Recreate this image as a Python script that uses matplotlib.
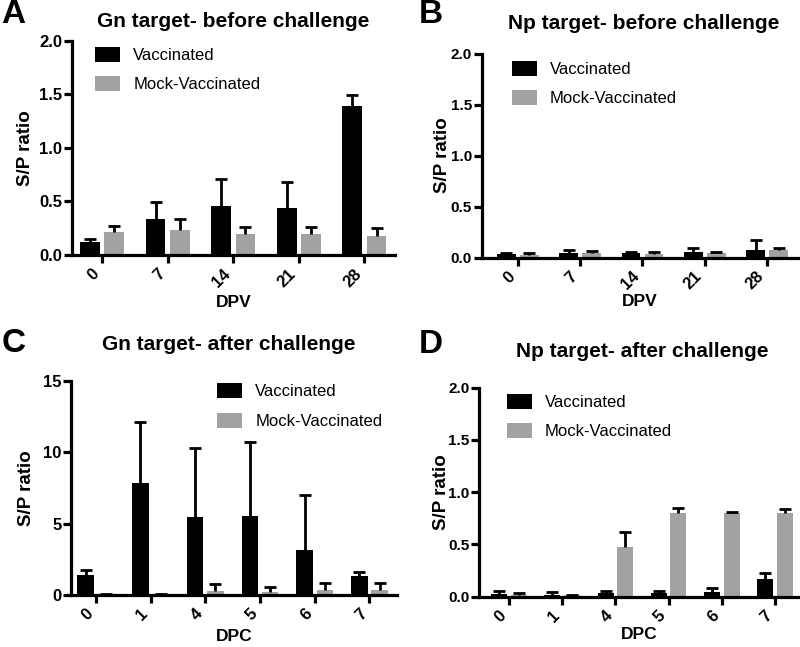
import matplotlib
matplotlib.use("Agg")
import matplotlib.pyplot as plt
import numpy as np

plt.rcParams["font.family"] = ["Liberation Sans", "DejaVu Sans"]

# data
dpv_labels = ["0", "7", "14", "21", "28"]
dpc_labels = ["0", "1", "4", "5", "6", "7"]

gn_before_vacc = [0.12, 0.34, 0.46, 0.44, 1.39]
gn_before_vacc_err = [0.03, 0.15, 0.25, 0.24, 0.10]
gn_before_mock = [0.21, 0.23, 0.20, 0.20, 0.18]
gn_before_mock_err = [0.06, 0.11, 0.06, 0.06, 0.07]

np_before_vacc = [0.033, 0.049, 0.040, 0.055, 0.078]
np_before_vacc_err = [0.013, 0.021, 0.010, 0.035, 0.092]
np_before_mock = [0.023, 0.040, 0.030, 0.040, 0.070]
np_before_mock_err = [0.017, 0.020, 0.020, 0.010, 0.020]

gn_after_vacc = [1.45, 7.84, 5.46, 5.58, 3.20, 1.33]
gn_after_vacc_err = [0.30, 4.31, 4.87, 5.12, 3.80, 0.33]
gn_after_mock = [0.05, 0.05, 0.30, 0.23, 0.35, 0.35]
gn_after_mock_err = [0.03, 0.03, 0.52, 0.33, 0.54, 0.51]

np_after_vacc = [0.026, 0.016, 0.030, 0.030, 0.048, 0.166]
np_after_vacc_err = [0.031, 0.024, 0.020, 0.025, 0.029, 0.057]
np_after_mock = [0.013, 0.010, 0.476, 0.795, 0.795, 0.795]
np_after_mock_err = [0.017, 0.005, 0.144, 0.050, 0.012, 0.045]

BLACK = "#000000"
GRAY = "#a2a2a2"
W, H = 800, 647


def bars_up(ax, x, vals, errs, color, label):
    ax.bar(x, vals, 0.30, color=color, label=label, zorder=2)
    eb = ax.errorbar(x, vals, yerr=[np.zeros(len(vals)), errs], fmt="none",
                     ecolor="black", elinewidth=2.0, capsize=4.2, capthick=2.0, zorder=3)
    # only the upper cap, like the original
    for cl in eb[1]:
        if np.allclose(cl.get_ydata(), vals):
            cl.set_visible(False)


def draw_panel(ax, labels, vacc, vacc_err, mock, mock_err, ymax, yticks, yticklabels,
               xlim, xlabel, title, title_xy, xlab_y, ylab_x, leg_xy, ytick_fs=12):
    x = np.arange(len(labels))
    bars_up(ax, x - 0.185, vacc, vacc_err, BLACK, "Vaccinated")
    bars_up(ax, x + 0.185, mock, mock_err, GRAY, "Mock-Vaccinated")

    ax.set_xlim(*xlim)
    ax.set_ylim(0, ymax)
    ax.set_yticks(yticks)
    ax.set_yticklabels(yticklabels, fontsize=ytick_fs, fontweight="bold")
    ax.set_xticks(x)
    ax.set_xticklabels(labels, rotation=45, ha="right", fontsize=12, fontweight="bold")
    for s in ["top", "right"]:
        ax.spines[s].set_visible(False)
    for s in ["left", "bottom"]:
        ax.spines[s].set_linewidth(2.3)
    ax.tick_params(width=2.3, length=5.5)
    ax.tick_params(axis="y", pad=1.5)
    ax.tick_params(axis="x", pad=2.5)
    ax.set_ylabel("S/P ratio", fontsize=13.5, fontweight="bold")
    ax.yaxis.set_label_coords(ylab_x, 0.5)
    ax.set_xlabel(xlabel, fontsize=12.5, fontweight="bold")
    ax.xaxis.set_label_coords(0.5, xlab_y)
    ax.text(title_xy[0], title_xy[1], title, transform=ax.transAxes, fontsize=15,
            fontweight="bold", ha="center", va="baseline")
    ax.legend(loc="upper left", bbox_to_anchor=leg_xy, frameon=False, fontsize=12,
              handlelength=1.5, handleheight=1.0, labelspacing=0.8, borderpad=0,
              borderaxespad=0, handletextpad=0.8)


fig = plt.figure(figsize=(8, 6.47), dpi=100)
axA = fig.add_axes([0.090, 0.606, 0.404, 0.331])
axB = fig.add_axes([0.602, 0.602, 0.395, 0.315])
axC = fig.add_axes([0.089, 0.080, 0.407, 0.331])
axD = fig.add_axes([0.599, 0.078, 0.401, 0.323])

yt2 = [0, 0.5, 1.0, 1.5, 2.0]
yl2 = ["0.0", "0.5", "1.0", "1.5", "2.0"]

draw_panel(axA, dpv_labels, gn_before_vacc, gn_before_vacc_err, gn_before_mock,
           gn_before_mock_err, 2.0, yt2, yl2, (-0.46, 4.47), "DPV",
           "Gn target- before challenge", (0.5, 1.065), -0.187, -0.118, (0.071, 0.972))
draw_panel(axB, dpv_labels, np_before_vacc, np_before_vacc_err, np_before_mock,
           np_before_mock_err, 2.0, yt2, yl2, (-0.58, 4.49), "DPV",
           "Np target- before challenge", (0.512, 1.123), -0.181, -0.098, (0.095, 0.966),
           ytick_fs=11)
draw_panel(axC, dpc_labels, gn_after_vacc, gn_after_vacc_err, gn_after_mock,
           gn_after_mock_err, 15, [0, 5, 10, 15], ["0", "5", "10", "15"],
           (-0.45, 5.5), "DPC", "Gn target- after challenge", (0.483, 1.145),
           -0.159, -0.112, (0.448, 0.99))
draw_panel(axD, dpc_labels, np_after_vacc, np_after_vacc_err, np_after_mock,
           np_after_mock_err, 2.0, yt2, yl2, (-0.56, 5.47), "DPC",
           "Np target- after challenge", (0.509, 1.144), -0.144, -0.091, (0.086, 0.971),
           ytick_fs=11)

# panel letters, baseline positions in pixels
for letter, px, py in [("A", 1, 23), ("B", 419, 23), ("C", 2, 352), ("D", 419, 353)]:
    fig.text(px / W, 1 - py / H, letter, fontsize=24, fontweight="bold",
             ha="left", va="baseline")

fig.savefig("out.png", dpi=100)
